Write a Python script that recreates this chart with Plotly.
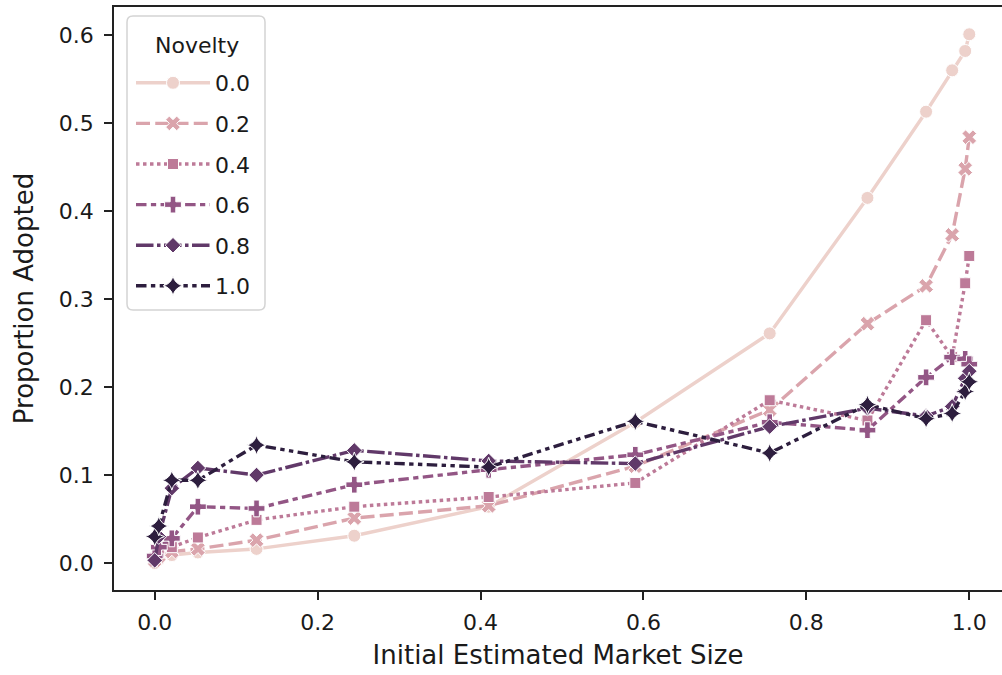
import plotly.graph_objects as go

# Initial estimated market size (x) shared by every novelty level
market_size = [0.0, 0.005, 0.021, 0.053, 0.125, 0.245, 0.41, 0.59, 0.755, 0.875, 0.947, 0.979, 0.995, 1.0]

# Proportion adopted for each novelty level
nov_00 = [0.000, 0.004, 0.009, 0.012, 0.016, 0.031, 0.064, 0.160, 0.261, 0.415, 0.513, 0.560, 0.582, 0.601]
nov_02 = [0.003, 0.008, 0.013, 0.016, 0.026, 0.051, 0.065, 0.110, 0.174, 0.272, 0.315, 0.373, 0.448, 0.484]
nov_04 = [0.006, 0.012, 0.018, 0.029, 0.049, 0.064, 0.075, 0.091, 0.185, 0.162, 0.276, 0.234, 0.318, 0.349]
nov_06 = [0.008, 0.018, 0.028, 0.064, 0.062, 0.089, 0.106, 0.123, 0.160, 0.151, 0.211, 0.234, 0.232, 0.226]
nov_08 = [0.003, 0.030, 0.085, 0.108, 0.100, 0.128, 0.116, 0.113, 0.155, 0.176, 0.167, 0.178, 0.210, 0.218]
nov_10 = [0.030, 0.042, 0.094, 0.094, 0.134, 0.115, 0.109, 0.161, 0.125, 0.180, 0.164, 0.170, 0.195, 0.206]

novelty_labels = ["0.0", "0.2", "0.4", "0.6", "0.8", "1.0"]
series = [nov_00, nov_02, nov_04, nov_06, nov_08, nov_10]

# cubehelix colours, light to dark
colors = ["#edd1cb", "#daa4ac", "#bd7a98", "#935685", "#613969", "#2d1e3e"]
symbols = ["circle", "x", "square", "cross", "diamond", "star-diamond"]
dashes = [
    "solid",
    "14px,5.25px",
    "3.5px,3.5px",
    "10.5px,4.4px,5.25px,4.4px",
    "17.5px,3.5px,3.5px,3.5px",
    "10.5px,4.4px,4.4px,4.4px,4.4px,4.4px",
]
sizes = [13, 13, 11, 14, 12, 14]

FONT = "DejaVu Sans"
TXT = "#1a1a1a"

# plot area in pixels (for placing the legend frame)
W, H = 1002, 675
ML, MR, MT, MB = 114, 0, 7, 85
PW, PH = W - ML - MR, H - MT - MB


def px_x(p):
    return (p - ML) / PW


def px_y(p):
    return 1 - (p - MT) / PH


def rounded_box(x0, y0, x1, y1, r):
    """SVG path (paper coords) of a rectangle with rounded corners, pixel inputs."""
    X0, X1 = px_x(x0), px_x(x1)
    Y0, Y1 = px_y(y0), px_y(y1)  # Y0 top, Y1 bottom
    rx, ry = r / PW, r / PH
    return (
        f"M{X0 + rx},{Y0} L{X1 - rx},{Y0} Q{X1},{Y0} {X1},{Y0 - ry} "
        f"L{X1},{Y1 + ry} Q{X1},{Y1} {X1 - rx},{Y1} "
        f"L{X0 + rx},{Y1} Q{X0},{Y1} {X0},{Y1 + ry} "
        f"L{X0},{Y0 - ry} Q{X0},{Y0} {X0 + rx},{Y0} Z"
    )


fig = go.Figure()
for i, (lab, ys) in enumerate(zip(novelty_labels, series)):
    fig.add_trace(go.Scatter(
        x=market_size, y=ys, name=lab, mode="lines+markers",
        legendgroup=lab,
        line=dict(color=colors[i], width=3.4, dash=dashes[i]),
        marker=dict(symbol=symbols[i], size=sizes[i], color=colors[i],
                    line=dict(color="white", width=1)),
    ))

# legend frame and title
fig.add_shape(
    type="path", xref="paper", yref="paper",
    path=rounded_box(127, 16, 265, 310, 6),
    line=dict(color="#d4d4d4", width=1.5), fillcolor="rgba(255,255,255,0.8)",
    layer="below",
)
fig.add_annotation(
    text="Novelty", xref="paper", yref="paper", x=px_x(197), y=px_y(46),
    xanchor="center", yanchor="middle", showarrow=False,
    font=dict(family=FONT, size=22, color=TXT),
)

fig.update_layout(
    width=W, height=H,
    margin=dict(l=ML, r=MR, t=MT, b=MB),
    paper_bgcolor="white", plot_bgcolor="white",
    font=dict(family=FONT, size=22, color=TXT),
    legend=dict(
        x=px_x(131), y=px_y(62), xanchor="left", yanchor="top",
        bgcolor="rgba(0,0,0,0)", borderwidth=0,
        font=dict(size=22), tracegroupgap=9, itemwidth=74,
    ),
    showlegend=True,
)

fig.update_xaxes(
    range=[-0.05, 1.0402], tick0=0, dtick=0.2, tickformat=".1f",
    showgrid=False, zeroline=False, showline=True, mirror=True,
    linecolor="#222", linewidth=1.8, ticks="outside", ticklen=8, tickwidth=1.8,
    tickcolor="#222", ticklabelstandoff=4,
    title=dict(text="Initial Estimated Market Size", standoff=12),
)
fig.update_yaxes(
    range=[-0.0307, 0.632], tick0=0, dtick=0.1, tickformat=".1f",
    showgrid=False, zeroline=False, showline=True, mirror=False,
    linecolor="#222", linewidth=1.8, ticks="outside", ticklen=8, tickwidth=1.8,
    tickcolor="#222", ticklabelstandoff=6,
    title=dict(text="Proportion Adopted", standoff=18),
)

fig.write_html("out.html")
